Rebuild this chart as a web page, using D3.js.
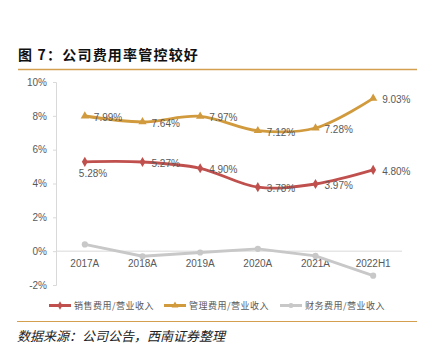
<!DOCTYPE html>
<html lang="zh">
<head>
<meta charset="utf-8">
<script src="https://cdn.jsdelivr.net/npm/d3@7"></script>
<style>
    body {margin: 0; background: #fff;}
    text {font-family: "Liberation Sans", Arial, sans-serif;}
    .cjk {font-family: "Noto Sans CJK SC", sans-serif;}
</style>
</head>
<body>
<script>
    const categories = ["2017A", "2018A", "2019A", "2020A", "2021A", "2022H1"];
    const seriesNames = ["销售费用/营业收入", "管理费用/营业收入", "财务费用/营业收入"];
    const sales = [5.28, 5.27, 4.90, 3.78, 3.97, 4.80];
    const admin = [7.99, 7.64, 7.97, 7.12, 7.28, 9.03];
    const finance = [0.40, -0.30, -0.08, 0.14, -0.28, -1.45];
    const yTicks = [-2, 0, 2, 4, 6, 8, 10];

    const W = 432, H = 352;
    const plot = {left: 56, right: 402, top: 82, bottom: 285};

    const svg = d3.select("body").append("svg")
        .attr("width", W).attr("height", H);

    // title + rules
    svg.append("text")
        .attr("class", "cjk")
        .attr("x", 18).attr("y", 60)
        .style("font-size", "14px")
        .style("font-weight", "bold")
        .style("letter-spacing", "1.2px")
        .attr("fill", "#111")
        .text("图 7：公司费用率管控较好");

    svg.append("line")
        .attr("x1", 18).attr("x2", 417).attr("y1", 69.5).attr("y2", 69.5)
        .attr("stroke", "#d4a050").attr("stroke-width", 1.5);

    svg.append("line")
        .attr("x1", 17).attr("x2", 417).attr("y1", 321.5).attr("y2", 321.5)
        .attr("stroke", "#d4a050").attr("stroke-width", 1.2);

    svg.append("text")
        .attr("class", "cjk")
        .attr("x", 17).attr("y", 341)
        .style("font-size", "13px")
        .style("font-style", "italic")
        .attr("fill", "#222")
        .text("数据来源：公司公告，西南证券整理");

    // scales
    const x = d3.scalePoint().domain(categories)
        .range([plot.left, plot.right]).padding(0.5);
    const y = d3.scaleLinear().domain([-2, 10]).range([plot.bottom, plot.top]);

    // y axis
    const yAxis = svg.append("g")
        .attr("transform", `translate(${plot.left},0)`)
        .call(d3.axisLeft(y).tickValues(yTicks).tickSize(3).tickPadding(6)
            .tickFormat(d => d + "%"));
    yAxis.select(".domain").attr("stroke", "#d9d9d9");
    yAxis.selectAll(".tick line").attr("stroke", "#d9d9d9");
    yAxis.selectAll("text").attr("fill", "#595959").style("font-size", "10px");

    // zero line
    svg.append("line")
        .attr("x1", plot.left).attr("x2", plot.right)
        .attr("y1", y(0)).attr("y2", y(0))
        .attr("stroke", "#d9d9d9");

    // x labels
    svg.append("g").selectAll("text")
        .data(categories).join("text")
        .attr("x", d => x(d)).attr("y", y(0) + 16)
        .attr("text-anchor", "middle")
        .attr("fill", "#595959")
        .style("font-size", "10px")
        .text(d => d);

    const series = [
        {name: seriesNames[0], values: sales, color: "#c0504d", curve: d3.curveCatmullRom, marker: d3.symbolDiamond, labels: true},
        {name: seriesNames[1], values: admin, color: "#d19a3d", curve: d3.curveCatmullRom, marker: d3.symbolTriangle, labels: true},
        {name: seriesNames[2], values: finance, color: "#c8c8c8", curve: d3.curveLinear, marker: d3.symbolCircle, labels: false}
    ];

    series.forEach(s => {
        const line = d3.line()
            .x((d, i) => x(categories[i]))
            .y(d => y(d))
            .curve(s.curve);

        svg.append("path")
            .datum(s.values)
            .attr("d", line)
            .attr("fill", "none")
            .attr("stroke", s.color)
            .attr("stroke-width", 2.8);

        svg.append("g").selectAll("path")
            .data(s.values).join("path")
            .attr("transform", (d, i) => `translate(${x(categories[i])},${y(d)})`)
            .attr("d", d3.symbol().type(s.marker).size(30))
            .attr("fill", s.color);

        if (s.labels) {
            svg.append("g").selectAll("text")
                .data(s.values).join("text")
                .attr("x", (d, i) => x(categories[i]) + (s === series[0] && i === 0 ? -6 : 9))
                .attr("y", (d, i) => y(d) + (s === series[0] && i === 0 ? 15 : 5))
                .attr("fill", "#595959")
                .style("font-size", "10px")
                .text(d => d.toFixed(2) + "%");
        }
    });

    // legend
    const legendX = [49, 164, 280];
    const legend = svg.append("g").selectAll("g")
        .data(series).join("g")
        .attr("transform", (d, i) => `translate(${legendX[i]},305.5)`);
    legend.append("line")
        .attr("x1", 0).attr("x2", 22)
        .attr("stroke", d => d.color).attr("stroke-width", 3);
    legend.append("path")
        .attr("transform", "translate(11,0)")
        .attr("d", d => d3.symbol().type(d.marker).size(20)())
        .attr("fill", d => d.color);
    legend.append("text")
        .attr("class", "cjk")
        .attr("x", 25).attr("y", 3.5)
        .attr("fill", "#595959")
        .style("font-size", "9px")
        .style("letter-spacing", "0.5px")
        .text(d => d.name);
</script>
</body>
</html>
